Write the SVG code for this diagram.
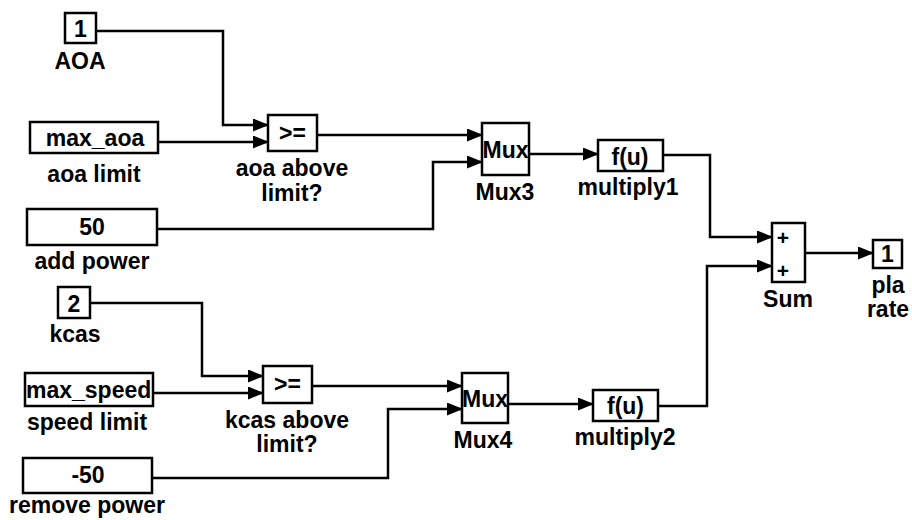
<svg xmlns="http://www.w3.org/2000/svg" width="912" height="520" viewBox="0 0 912 520">
<style>
.blk{fill:#fff;stroke:#000;stroke-width:2.5}
.t{font-family:"Liberation Sans",Arial,sans-serif;font-weight:bold;font-size:23px;fill:#000;text-anchor:middle}
.l{text-anchor:start}
.w{fill:none;stroke:#000;stroke-width:2.5;marker-end:url(#ah)}
</style>
<defs>
<marker id="ah" markerUnits="userSpaceOnUse" markerWidth="16" markerHeight="13" refX="15" refY="6.5" orient="auto">
<path d="M0,0 L16,6.5 L0,13 z" fill="#000"/>
</marker>
<clipPath id="clipSpeed"><rect x="25" y="373" width="127" height="33"/></clipPath>
</defs>
<rect width="912" height="520" fill="#fff"/>
<g id="connectors">
<path class="w" d="M96,31 H223 V125 H268"/>
<path class="w" d="M158,142 H268"/>
<path class="w" d="M317,135 H482"/>
<path class="w" d="M157,229 H433 V162 H482"/>
<path class="w" d="M529,154 H598"/>
<path class="w" d="M663,155 H710 V237 H772"/>
<path class="w" d="M658,406 H707 V266 H772"/>
<path class="w" d="M805,253 H873"/>
<path class="w" d="M90,303 H202 V376 H263"/>
<path class="w" d="M153,393 H263"/>
<path class="w" d="M312,386 H462"/>
<path class="w" d="M152,478 H388 V409 H462"/>
<path class="w" d="M508,404 H593"/>
</g>
<g id="in1">
<rect class="blk" x="65" y="13" width="31" height="30"/>
<text class="t" x="80.5" y="37">1</text>
<text class="t" x="80" y="69">AOA</text>
</g>
<g id="aoa_limit">
<rect class="blk" x="30" y="122" width="128" height="31"/>
<text class="t" x="95" y="146">max_aoa</text>
<text class="t" x="94" y="182">aoa limit</text>
</g>
<g id="add_power">
<rect class="blk" x="27" y="209" width="130" height="36"/>
<text class="t" x="92" y="235">50</text>
<text class="t" x="92" y="269">add power</text>
</g>
<g id="aoa_above_limit">
<rect class="blk" x="268" y="115" width="49" height="36"/>
<text class="t" x="292.5" y="141">&gt;=</text>
<text class="t" x="292" y="176">aoa above</text>
<text class="t" x="292" y="201">limit?</text>
</g>
<g id="mux3">
<rect class="blk" x="482" y="123" width="47" height="52"/>
<text class="t" x="505.5" y="158">Mux</text>
<text class="t" x="505" y="200">Mux3</text>
</g>
<g id="multiply1">
<rect class="blk" x="598" y="140" width="65" height="31"/>
<text class="t" x="630" y="165">f(u)</text>
<text class="t" x="628" y="195">multiply1</text>
</g>
<g id="sum">
<rect class="blk" x="772" y="223" width="33" height="59"/>
<text class="t" x="783" y="245" style="font-size:21px">+</text>
<text class="t" x="783" y="278" style="font-size:21px">+</text>
<text class="t" x="788" y="307">Sum</text>
</g>
<g id="out1">
<rect class="blk" x="873" y="240" width="29" height="28"/>
<text class="t" x="887.5" y="262">1</text>
<text class="t" x="888" y="293">pla</text>
<text class="t" x="888" y="317">rate</text>
</g>
<g id="in2">
<rect class="blk" x="58" y="287" width="32" height="31"/>
<text class="t" x="74" y="312">2</text>
<text class="t" x="75" y="342">kcas</text>
</g>
<g id="speed_limit">
<rect class="blk" x="25" y="373" width="128" height="33"/>
<text class="t l" x="26" y="398" clip-path="url(#clipSpeed)">max_speed</text>
<text class="t" x="87" y="430">speed limit</text>
</g>
<g id="remove_power">
<rect class="blk" x="23" y="458" width="129" height="35"/>
<text class="t" x="88" y="483">-50</text>
<text class="t" x="87" y="513">remove power</text>
</g>
<g id="kcas_above_limit">
<rect class="blk" x="263" y="366" width="49" height="37"/>
<text class="t" x="287.5" y="392">&gt;=</text>
<text class="t" x="287" y="428">kcas above</text>
<text class="t" x="287" y="452">limit?</text>
</g>
<g id="mux4">
<rect class="blk" x="462" y="373" width="46" height="50"/>
<text class="t" x="485" y="407">Mux</text>
<text class="t" x="483" y="448">Mux4</text>
</g>
<g id="multiply2">
<rect class="blk" x="593" y="390" width="65" height="31"/>
<text class="t" x="625.5" y="414">f(u)</text>
<text class="t" x="625" y="445">multiply2</text>
</g>
</svg>
